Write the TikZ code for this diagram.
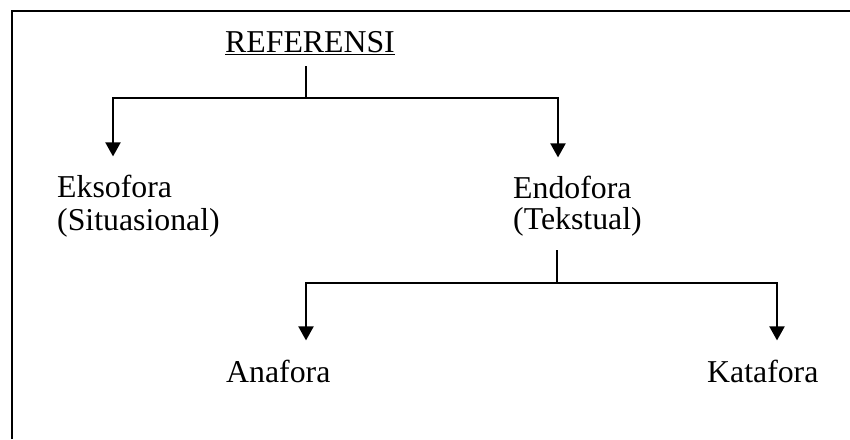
\documentclass[tikz,border=0pt]{standalone}
\usepackage{fontspec}
\setmainfont{Liberation Serif}
\usetikzlibrary{arrows.meta}
\begin{document}
\begin{tikzpicture}[x=1pt,y=-1pt,
  lbl/.style={anchor=base west,inner sep=0pt,font=\fontsize{31.8}{32}\selectfont},
  conn/.style={line width=2pt},
  arr/.style={conn,-{Triangle[length=14pt,width=15pt]}}]
\useasboundingbox (0,0) rectangle (850,439);
% frame
\draw[conn] (12,439) -- (12,11) -- (850,11);
% nodes
\node[lbl] (ref) at (225,52) {REFERENSI};
\draw[line width=1.8pt] ([yshift=-2.5pt]ref.base west) -- ([yshift=-2.5pt]ref.base east);
\node[lbl] (eks1) at (57,197) {Eksofora};
\node[lbl] (eks2) at (57,230) {(Situasional)};
\node[lbl] (endo1) at (513,198) {Endofora};
\node[lbl] (endo2) at (513,229) {(Tekstual)};
\node[lbl] (ana) at (226,382) {Anafora};
\node[lbl] (kata) at (707,382) {Katafora};
% junctions
\coordinate (j1) at (306,98);
\coordinate (jl) at (113,98);
\coordinate (jr) at (558,98);
\coordinate (j2) at (557,283);
\coordinate (kl) at (306,283);
\coordinate (kr) at (777,283);
% connectors
\draw[conn] ([yshift=-14pt]ref.base -| j1) -- (j1);
\draw[arr] (j1) -| ([yshift=18pt]eks1.north -| jl);
\draw[arr] (j1) -| ([yshift=18pt]endo1.north -| jr);
\draw[conn] ([yshift=-21pt]endo2.base -| j2) -- (j2);
\draw[arr] (j2) -| ([yshift=19pt]ana.north -| kl);
\draw[arr] (j2) -| ([yshift=19pt]kata.north -| kr);
\end{tikzpicture}
\end{document}
